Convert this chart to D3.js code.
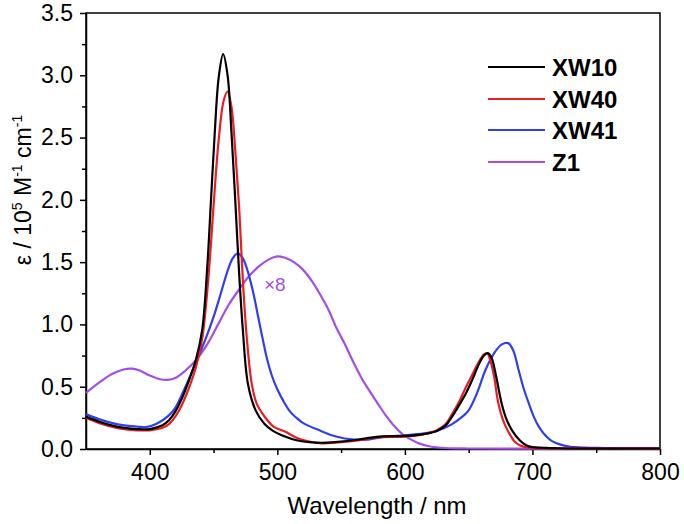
<!DOCTYPE html>
<html><head><meta charset="utf-8">
<script src="https://cdn.jsdelivr.net/npm/d3@7"></script>
<style>body{margin:0;background:#fff;} svg{display:block;} text{font-family:"Liberation Sans",Arial,sans-serif;}</style>
</head><body><svg id="c" width="684" height="524"></svg>
<script>
// ---- data ----
const seriesNames = ["XW10", "XW40", "XW41", "Z1"];
const seriesColors = ["#000000", "#ec1c24", "#2f3ff0", "#a24fe6"];
const xTicks = [400, 500, 600, 700, 800];
const yTicks = [0.0, 0.5, 1.0, 1.5, 2.0, 2.5, 3.0, 3.5];

const wlXW10 = [350,360,370,380,390,400,410,415,420,425,430,436,441,445,448,451,454,457.5,461,464,467,470,473,477,483,490,496,506,515,525,535,545,560,580,600,615,625,632,637,643,648,653,658,662,665,668,671,676,680,684,690,695,700,720,800];
const vXW10  = [0.26,0.22,0.19,0.17,0.16,0.16,0.19,0.23,0.30,0.40,0.53,0.71,0.95,1.45,2.00,2.55,2.98,3.17,3.00,2.55,2.00,1.42,0.95,0.52,0.31,0.20,0.15,0.10,0.07,0.055,0.05,0.055,0.07,0.10,0.105,0.12,0.145,0.19,0.26,0.36,0.45,0.56,0.68,0.75,0.77,0.73,0.61,0.36,0.23,0.15,0.07,0.03,0.015,0.006,0.004];

const wlXW40 = [350,360,370,380,390,400,410,415,420,425,430,436,441,446,450,454,458,461,464,467,470,473,476,480,484,490,497,506,515,525,535,545,560,580,600,615,625,632,637,643,648,653,658,662,664.5,667,670,673,677,681,686,690,696,720,800];
const vXW40  = [0.25,0.21,0.18,0.16,0.15,0.15,0.17,0.20,0.26,0.35,0.47,0.65,0.88,1.38,1.95,2.48,2.80,2.87,2.75,2.40,1.95,1.35,0.90,0.52,0.36,0.26,0.18,0.14,0.09,0.06,0.045,0.05,0.065,0.095,0.10,0.12,0.15,0.20,0.28,0.39,0.50,0.60,0.70,0.76,0.77,0.71,0.58,0.38,0.23,0.14,0.06,0.03,0.012,0.005,0.003];

const wlXW41 = [350,360,370,380,390,397,405,415,420,428,436,444,450,456,461,465,469,473,477,481,485,489,492,496,500,505,510,515,520,533,546,560,570,585,600,615,625,637,645,650,657,663,670,676,681,685,689,693,697,701,705,710,715,722,730,750,800];
const vXW41  = [0.28,0.24,0.21,0.19,0.18,0.175,0.20,0.27,0.33,0.50,0.69,0.89,1.06,1.26,1.43,1.53,1.57,1.53,1.42,1.26,1.06,0.86,0.72,0.58,0.48,0.38,0.30,0.25,0.21,0.15,0.10,0.075,0.075,0.10,0.11,0.125,0.145,0.20,0.26,0.31,0.46,0.63,0.77,0.84,0.85,0.79,0.64,0.49,0.37,0.26,0.18,0.11,0.065,0.035,0.018,0.009,0.006];

const wlZ1 = [350,360,370,380,386,392,400,408,414,420,428,436,445,454,462,470,478,486,493,499,506,513,520,527,533,540,546,553,559,566,572,579,585,592,598,605,611,620,632,650,800];
const vZ1  = [0.45,0.53,0.60,0.64,0.645,0.63,0.59,0.56,0.555,0.57,0.63,0.71,0.84,1.01,1.16,1.28,1.39,1.47,1.52,1.545,1.535,1.50,1.44,1.35,1.25,1.12,0.98,0.84,0.71,0.57,0.47,0.36,0.27,0.18,0.12,0.075,0.045,0.02,0.008,0.004,0.004];

const seriesWl = [wlXW10, wlXW40, wlXW41, wlZ1];
const seriesVals = [vXW10, vXW40, vXW41, vZ1];

// ---- layout ----
const svg = d3.select("#c");
const L = 86, R = 660, T = 13, B = 449;
const x = d3.scaleLinear().domain([350, 800]).range([L, R]);
const y = d3.scaleLinear().domain([0, 3.5]).range([B, T]);

// frame
svg.append("rect").attr("x", L).attr("y", T).attr("width", R - L).attr("height", B - T)
  .attr("fill", "none").attr("stroke", "#000").attr("stroke-width", 1.5);

// x axis
const xMinor = d3.range(350, 801, 50).filter(v => !xTicks.includes(v) && v !== 350);
const gx = svg.append("g").attr("transform", `translate(0,${B})`);
gx.call(d3.axisBottom(x).tickValues(xTicks).tickSize(6).tickPadding(9).tickSizeOuter(0).tickFormat(d3.format("d")));
gx.append("g").call(d3.axisBottom(x).tickValues(xMinor).tickSize(4).tickFormat("").tickSizeOuter(0)).select(".domain").remove();
// y axis
const yMinor = d3.range(0.25, 3.5, 0.5);
const gy = svg.append("g").attr("transform", `translate(${L},0)`);
gy.call(d3.axisLeft(y).tickValues(yTicks).tickSize(6).tickPadding(7).tickSizeOuter(0).tickFormat(d3.format(".1f")));
gy.append("g").call(d3.axisLeft(y).tickValues(yMinor).tickSize(4).tickFormat("").tickSizeOuter(0)).select(".domain").remove();
svg.selectAll(".domain").attr("stroke-width", 1.5);
svg.selectAll(".tick line").attr("stroke-width", 1.5);
svg.selectAll(".tick text").attr("font-size", 23).attr("font-family", "Liberation Sans, Arial, sans-serif").attr("fill", "#000");

// axis titles
svg.append("text").attr("x", (L + R) / 2 + 4).attr("y", 514).attr("text-anchor", "middle")
  .attr("font-size", 24).text("Wavelength / nm");
const yt = svg.append("text").attr("transform", "translate(31,190) rotate(-90)").attr("text-anchor", "middle").attr("font-size", 23);
yt.append("tspan").text("ε / 10");
yt.append("tspan").attr("dy", -9).attr("font-size", 14).text("5");
yt.append("tspan").attr("dy", 9).text(" M");
yt.append("tspan").attr("dy", -9).attr("font-size", 14).text("-1");
yt.append("tspan").attr("dy", 9).text(" cm");
yt.append("tspan").attr("dy", -9).attr("font-size", 14).text("-1");

// curves
const line = d3.line().x(d => x(d[0])).y(d => y(d[1])).curve(d3.curveCatmullRom.alpha(0.5));
const order = [3, 2, 1, 0];
order.forEach(i => {
  const pts = seriesWl[i].map((w, k) => [w, seriesVals[i][k]]);
  svg.append("path").datum(pts).attr("d", line).attr("fill", "none")
    .attr("stroke", seriesColors[i]).attr("stroke-width", 2.2).attr("stroke-linejoin", "round");
});

// x8 label
svg.append("text").attr("x", 264).attr("y", 291).attr("font-size", 19).attr("fill", seriesColors[3]).text("×8");

// legend
const legY = [67, 99, 130, 162];
seriesNames.forEach((n, i) => {
  svg.append("line").attr("x1", 488).attr("x2", 545).attr("y1", legY[i]).attr("y2", legY[i])
    .attr("stroke", seriesColors[i]).attr("stroke-width", 2.2);
  svg.append("text").attr("x", 552).attr("y", legY[i] + 8.5).attr("font-size", 24).attr("font-weight", "bold").text(n);
});
</script></body></html>
